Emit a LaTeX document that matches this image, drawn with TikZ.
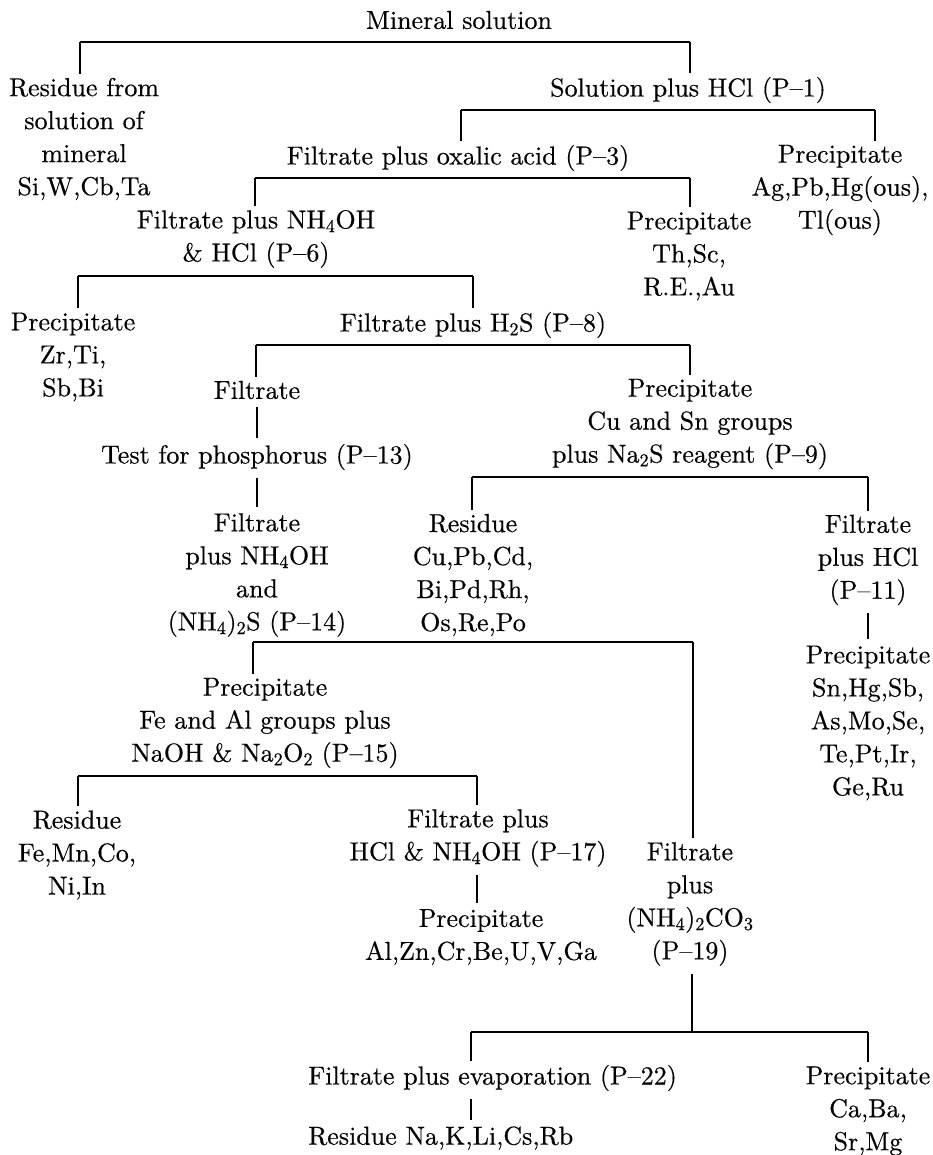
\documentclass[tikz,border=0pt]{standalone}
\usepackage{fontspec}
\setmainfont{lmroman10-regular.otf}[FakeBold=0.4]
\begin{document}
\begin{tikzpicture}[x=1pt,y=-1pt,
  lbl/.style={align=center, inner sep=0pt, font=\fontsize{26}{33}\selectfont},
  bar/.style={line width=2.6pt},
  drop/.style={line width=1.3pt},
]
\useasboundingbox (0,0) rectangle (932,1155);
% ---- text nodes
\node[lbl] (ms)   at (459,20)  {Mineral solution};
\node[lbl] (res1) at (84,139)  {Residue from\\solution of\\mineral\\Si,W,Cb,Ta};
\node[lbl] (sol)  at (688,90)  {Solution plus HCl (P--1)};
\node[lbl] (fox)  at (458,158) {Filtrate plus oxalic acid (P--3)};
\node[lbl] (pr1)  at (840,190) {Precipitate\\Ag,Pb,Hg(ous),\\Tl(ous)};
\node[lbl] (fnh)  at (256,239) {Filtrate plus NH\textsubscript{4}OH\\\& HCl (P--6)};
\node[lbl] (pr2)  at (689,256) {Precipitate\\Th,Sc,\\R.E.,Au};
\node[lbl] (pr3)  at (73,357)  {Precipitate\\Zr,Ti,\\Sb,Bi};
\node[lbl] (fh2s) at (473,325) {Filtrate plus H\textsubscript{2}S (P--8)};
\node[lbl] (filt1) at (257,390) {Filtrate};
\node[lbl] (tp)   at (257,457) {Test for phosphorus (P--13)};
\node[lbl] (pr4)  at (690,424) {Precipitate\\Cu and Sn groups\\plus Na\textsubscript{2}S reagent (P--9)};
\node[lbl] (filt2) at (257,575) {Filtrate\\plus NH\textsubscript{4}OH\\and\\(NH\textsubscript{4})\textsubscript{2}S (P--14)};
\node[lbl] (res2) at (473,575) {Residue\\Cu,Pb,Cd,\\Bi,Pd,Rh,\\Os,Re,Po};
\node[lbl] (filt3) at (868,560) {Filtrate\\plus HCl\\(P--11)};
\node[lbl] (pr5)  at (868,723) {Precipitate\\Sn,Hg,Sb,\\As,Mo,Se,\\Te,Pt,Ir,\\Ge,Ru};
\node[lbl] (pr6)  at (265,723) {Precipitate\\Fe and Al groups plus\\NaOH \& Na\textsubscript{2}O\textsubscript{2} (P--15)};
\node[lbl] (res3) at (77,855)  {Residue\\Fe,Mn,Co,\\Ni,In};
\node[lbl] (fhcl) at (478,838) {Filtrate plus\\HCl \& NH\textsubscript{4}OH (P--17)};
\node[lbl] (pr7)  at (481,937) {Precipitate\\Al,Zn,Cr,Be,U,V,Ga};
\node[lbl] (filt4) at (690,904) {Filtrate\\plus\\(NH\textsubscript{4})\textsubscript{2}CO\textsubscript{3}\\(P--19)};
\node[lbl,anchor=west] (fev) at (308,1078) {Filtrate plus evaporation (P--22)};
\node[lbl,anchor=west] (resf) at (308,1138) {Residue Na,K,Li,Cs,Rb};
\node[lbl] (pr8)  at (868,1111) {Precipitate\\Ca,Ba,\\Sr,Mg};
% ---- bracket corners
\coordinate (b1l) at (80,42);   \coordinate (b1r) at (690,42);
\coordinate (b2l) at (461,110); \coordinate (b2r) at (875,110);
\coordinate (b3l) at (255,178); \coordinate (b3r) at (690,178);
\coordinate (b4l) at (78,276);  \coordinate (b4r) at (473,276);
\coordinate (b5l) at (256,345); \coordinate (b5r) at (690,345);
\coordinate (b6l) at (472,477); \coordinate (b6r) at (868,477);
\coordinate (b7l) at (253,642); \coordinate (b7r) at (693,642);
\coordinate (b8l) at (78,776);  \coordinate (b8r) at (477,776);
\coordinate (b9l) at (471,1032); \coordinate (b9r) at (868,1032);
\coordinate (b9s) at (692,1032);
% ---- bars
\foreach \b in {b1,b2,b3,b4,b5,b6,b7,b8,b9}
  \draw[bar] (\b l) -- (\b r);
% ---- drops
\draw[drop,shorten >=4pt] (b1l) -- (b1l |- res1.north);
\draw[drop,shorten >=4pt] (b1r) -- (b1r |- sol.north);
\draw[drop,shorten >=4pt] (b2l) -- (b2l |- fox.north);
\draw[drop,shorten >=4pt] (b2r) -- (b2r |- pr1.north);
\draw[drop,shorten >=4pt] (b3l) -- (b3l |- fnh.north);
\draw[drop,shorten >=4pt] (b3r) -- (b3r |- pr2.north);
\draw[drop,shorten >=4pt] (b4l) -- (b4l |- pr3.north);
\draw[drop,shorten >=4pt] (b4r) -- (b4r |- fh2s.north);
\draw[drop,shorten >=4pt] (b5l) -- (b5l |- filt1.north);
\draw[drop,shorten >=4pt] (b5r) -- (b5r |- pr4.north);
\draw[drop,shorten >=4pt] (b6l) -- (b6l |- res2.north);
\draw[drop,shorten >=4pt] (b6r) -- (b6r |- filt3.north);
\draw[drop,shorten >=4pt] (b7l) -- (b7l |- pr6.north);
\draw[drop,shorten >=4pt] (b7r) -- (b7r |- filt4.north);
\draw[drop,shorten >=4pt] (b8l) -- (b8l |- res3.north);
\draw[drop,shorten >=4pt] (b8r) -- (b8r |- fhcl.north);
\draw[drop,shorten >=4pt] (b9l) -- (b9l |- fev.north);
\draw[drop,shorten >=4pt] (b9r) -- (b9r |- pr8.north);
\draw[drop,shorten <=8pt] (b9s |- filt4.south) -- (b9s);
% ---- single connectors
\draw[drop,shorten <=8pt,shorten >=6pt] (filt1.south) -- (tp.north);
\draw[drop,shorten <=8pt,shorten >=6pt] (tp.south) -- (filt2.north);
\draw[drop,shorten <=8pt,shorten >=6pt] (filt3.south) -- (filt3.south |- pr5.north);
\draw[drop,shorten <=8pt,shorten >=6pt] (fhcl.south -| b8r) -- (b8r |- pr7.north);
\draw[drop,shorten <=8pt,shorten >=6pt] (fev.south -| b9l) -- (b9l |- resf.north);
\end{tikzpicture}
\end{document}
